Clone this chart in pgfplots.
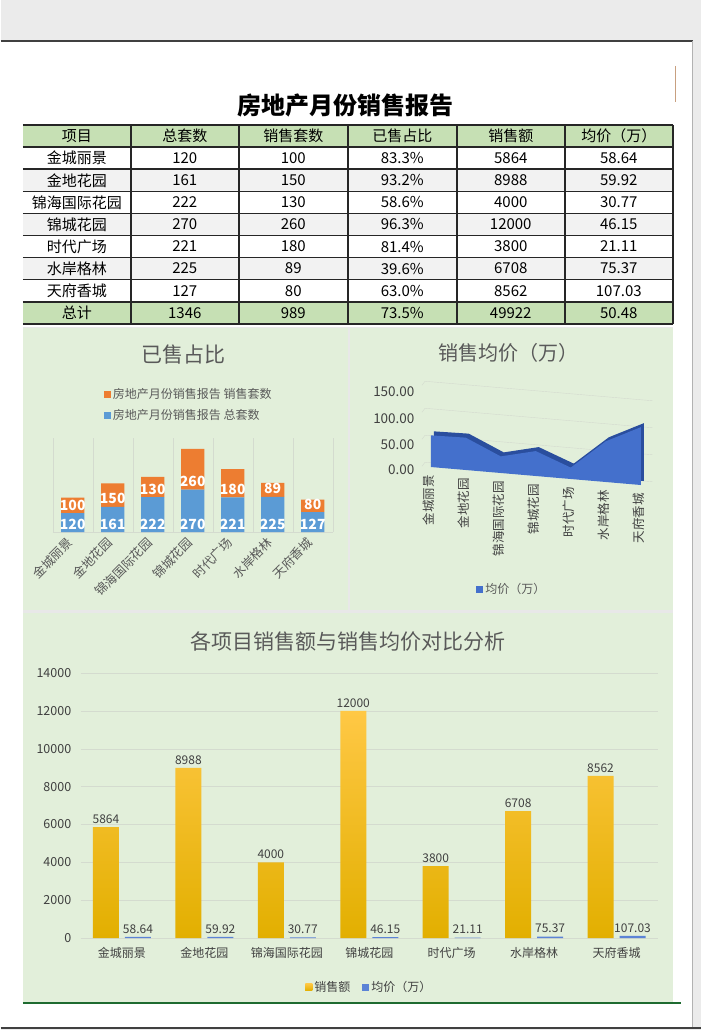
\documentclass[border=0pt]{standalone}
\usepackage{fontspec}
\setmainfont{Noto Sans CJK SC}
\usepackage{pgfplots}
\usepackage{pgfplotstable}
\pgfplotsset{compat=1.18}

\definecolor{pagegray}{HTML}{EBEBEB}
\definecolor{panelgreen}{HTML}{E2EFDA}
\definecolor{headgreen}{HTML}{C6E0B4}
\definecolor{rowgray}{HTML}{F2F2F2}
\definecolor{xlblue}{HTML}{5B9BD5}
\definecolor{xlorange}{HTML}{ED7D31}
\definecolor{areablue}{HTML}{4470CC}
\definecolor{areadark}{HTML}{2A4E9E}
\definecolor{txtgray}{HTML}{595959}
\definecolor{txtdark}{HTML}{404040}
\definecolor{gridgray}{HTML}{D4DBCF}
\definecolor{goldtop}{HTML}{FFC845}
\definecolor{goldmid}{HTML}{FFC000}
\definecolor{goldbot}{HTML}{E2AF00}
\definecolor{pricebar}{HTML}{5B83D6}
\definecolor{darkgreen}{HTML}{1E6B30}
\definecolor{edgebrown}{HTML}{C8A080}

\newcommand{\fs}[1]{\fontsize{#1}{#1}\selectfont}

% monthly sales per project
\pgfplotstableread{
x total sold amount price
0 120 100 5864  58.64
1 161 150 8988  59.92
2 222 130 4000  30.77
3 270 260 12000 46.15
4 221 180 3800  21.11
5 225 89  6708  75.37
6 127 80  8562  107.03
}\sales

% outline of the price area (with its floor points)
\pgfplotstableread{
x z
0 0
0 58.64
1 59.92
2 30.77
3 46.15
4 21.11
5 75.37
6 107.03
6 0
}\pricearea

\begin{document}
\begin{tikzpicture}
% page
\fill[pagegray] (0pt,0pt) rectangle (700pt,-1030pt);
\fill[white] (0pt,-41pt) rectangle (692pt,-1027pt);
\draw[line width=1.5pt, black!75] (0pt,-41pt) -- (692pt,-41pt);
\draw[line width=1.5pt, black!75] (0pt,-1028pt) -- (700pt,-1028pt);
\draw[line width=0.8pt, gray!60] (692pt,-41pt) -- (692pt,-1027pt);
\draw[line width=1pt, edgebrown] (675pt,-66pt) -- (675pt,-102pt);

% title
\node[font=\fs{24}\bfseries] at (345pt,-105pt) {房地产月份销售报告};

% table
\fill[headgreen] (22pt,-125pt) rectangle (672pt,-147.1pt);
\fill[headgreen] (22pt,-301.8pt) rectangle (672pt,-323.9pt);
\foreach \r in {2,4,6}
  \fill[rowgray] (22pt,{-125pt-\r*22.1pt}) rectangle (672pt,{-125pt-(\r+1)*22.1pt});
\foreach \r in {0,...,8}
  \draw[line width=1.5pt, black!85] (22pt,{-125pt-\r*22.1pt}) -- (672pt,{-125pt-\r*22.1pt});
\draw[line width=1.5pt, black!85] (22pt,-323.9pt) -- (672pt,-323.9pt);
\foreach \c in {130,238,347,456,564,672}
  \draw[line width=1.5pt, black!85] (\c pt,-125pt) -- (\c pt,-323.9pt);
\foreach \r/\a/\b/\c/\d/\e/\f in {
  0/项目/总套数/销售套数/已售占比/销售额/均价（万）,
  1/金城丽景/120/100/83.3\%/5864/58.64,
  2/金地花园/161/150/93.2\%/8988/59.92,
  3/锦海国际花园/222/130/58.6\%/4000/30.77,
  4/锦城花园/270/260/96.3\%/12000/46.15,
  5/时代广场/221/180/81.4\%/3800/21.11,
  6/水岸格林/225/89/39.6\%/6708/75.37,
  7/天府香城/127/80/63.0\%/8562/107.03,
  8/总计/1346/989/73.5\%/49922/50.48}{
  \node[font=\fs{15}] at (76pt,{-125pt-(\r+0.5)*22.1pt}) {\a};
  \node[font=\fs{15}] at (184pt,{-125pt-(\r+0.5)*22.1pt}) {\b};
  \node[font=\fs{15}] at (292.5pt,{-125pt-(\r+0.5)*22.1pt}) {\c};
  \node[font=\fs{15}] at (401.5pt,{-125pt-(\r+0.5)*22.1pt}) {\d};
  \node[font=\fs{15}] at (510pt,{-125pt-(\r+0.5)*22.1pt}) {\e};
  \node[font=\fs{15}] at (618pt,{-125pt-(\r+0.5)*22.1pt}) {\f};
}

% chart panels
\fill[gray!18] (22pt,-327pt) rectangle (672pt,-1002pt);
\fill[panelgreen] (22pt,-328pt) rectangle (347pt,-610pt);
\fill[panelgreen] (349pt,-328pt) rectangle (672pt,-610pt);
\fill[panelgreen] (22pt,-613pt) rectangle (672pt,-1002pt);
\draw[darkgreen, line width=2pt] (22pt,-1003pt) -- (680pt,-1003pt);

\node[font=\fs{21}, text=txtgray] at (183pt,-355pt) {已售占比};
\node[font=\fs{20}, text=txtgray] at (508pt,-353pt) {销售均价（万）};
\node[font=\fs{21}, text=txtgray] at (347pt,-642pt) {各项目销售额与销售均价对比分析};

% chart 1: stacked bars
\begin{axis}[
  at={(52pt,-532pt)}, anchor=south west,
  scale only axis, width=280pt, height=94pt,
  xmin=-0.5, xmax=6.5, ymin=0, ymax=600,
  ybar stacked, bar width=23pt,
  axis x line=bottom, axis y line=none,
  x axis line style={draw=gridgray, -},
  xtick={0,...,6},
  xticklabels={金城丽景,金地花园,锦海国际花园,锦城花园,时代广场,水岸格林,天府香城},
  major tick length=0pt, minor tick length=0pt,
  minor xtick={-0.5,0.5,...,6.5}, xminorgrids, minor grid style={gridgray},
  xticklabel style={rotate=45, anchor=east, font=\fs{12.5}, text=txtgray},
  xticklabel shift=6pt,
  ytick=\empty,
  /pgf/number format/assume math mode=true,
  point meta=explicit,
  nodes near coords,
  every node near coord/.append style={font=\fs{14}\bfseries, text=white,
    inner sep=0pt, text height=10pt, text depth=0pt,
    shift={(axis direction cs:0,-\halfy)}, yshift=8pt},
  reverse legend, legend cell align=left,
  legend style={at={(0.171,1.57)}, anchor=north west, draw=none, fill=none,
    font=\fs{12}, text=txtgray, row sep=5pt},
]
\addplot[fill=xlblue, draw=none, visualization depends on={0.5*\thisrow{total} \as \halfy},
  legend image code/.code={\fill[xlblue] (0pt,-3.5pt) rectangle (7pt,3.5pt);}]
  table[x=x, y=total, meta=total] {\sales};
\addplot[fill=xlorange, draw=none, visualization depends on={0.5*\thisrow{sold} \as \halfy},
  legend image code/.code={\fill[xlorange] (0pt,-3.5pt) rectangle (7pt,3.5pt);}]
  table[x=x, y=sold, meta=sold] {\sales};
\legend{房地产月份销售报告 总套数, 房地产月份销售报告 销售套数}
\end{axis}

% chart 2: 3D area
\begin{axis}[
  at={(430pt,-467pt)}, anchor=origin,
  x={(35pt,-3pt)}, y={(3pt,4pt)}, z={(0pt,0.54pt)},
  xmin=-0.25, xmax=6.25, ymin=0, ymax=1, zmin=0, zmax=150,
  ztick={0,50,100,150}, zmajorgrids, grid style={gridgray},
  ytick=\empty,
  axis line style={draw=none}, major tick length=0pt,
  xtick={0,...,6},
  xticklabels={金城丽景,金地花园,锦海国际花园,锦城花园,时代广场,水岸格林,天府香城},
  xticklabel style={rotate=90, anchor=east, font=\fs{12.5}, text=txtdark},
  xticklabel shift=5pt,
  zticklabel style={font=\fs{13.5}, text=txtdark, xshift=-4pt, yshift=4pt,
    /pgf/number format/.cd, fixed, fixed zerofill, precision=2},
  /pgf/number format/assume math mode=true,
  legend style={at={(0.39,-0.99)}, anchor=center, draw=none, fill=none,
    font=\fs{12}, text=txtgray},
]
\addplot3[fill=areadark, draw=none, forget plot]
  table[x=x, y expr=1, z=z] {\pricearea};
\addplot3[fill=areablue, draw=none,
  legend image code/.code={\fill[areablue] (0pt,-3.5pt) rectangle (7pt,3.5pt);}]
  table[x=x, y expr=0, z=z] {\pricearea};
\legend{均价（万）}
\end{axis}

% chart 3: amount and price bars
\begin{axis}[
  at={(80pt,-938pt)}, anchor=south west,
  scale only axis, width=577pt, height=265pt,
  xmin=-0.5, xmax=6.5, ymin=0, ymax=14000,
  ytick={0,2000,...,14000}, ymajorgrids, grid style={gridgray},
  scaled y ticks=false,
  ybar=6pt, bar width=26pt,
  axis x line*=bottom, axis y line*=left,
  x axis line style={draw=gridgray, -}, y axis line style={draw=none},
  major tick length=0pt,
  xtick={0,...,6},
  xticklabels={金城丽景,金地花园,锦海国际花园,锦城花园,时代广场,水岸格林,天府香城},
  xticklabel style={font=\fs{12}, text=txtdark},
  xticklabel shift=6pt,
  yticklabel style={font=\fs{12.5}, text=txtdark, xshift=-6pt, /pgf/number format/1000 sep={}},
  /pgf/number format/assume math mode=true,
  nodes near coords={\pgfmathprintnumber[fixed, precision=2, 1000 sep={}]{\pgfplotspointmeta}},
  every node near coord/.append style={font=\fs{12}, text=txtdark},
  legend columns=2,
  legend style={at={(0.5,-0.185)}, anchor=center, draw=none, fill=none,
    font=\fs{12}, text=txtdark, /tikz/every even column/.append style={column sep=10pt}},
]
\addplot[draw=none, top color=goldtop, middle color=goldmid, bottom color=goldbot,
  legend image code/.code={\fill[goldmid] (0pt,-3.5pt) rectangle (7pt,3.5pt);}]
  table[x=x, y=amount] {\sales};
\addplot[fill=pricebar, draw=none,
  legend image code/.code={\fill[pricebar] (0pt,-3.5pt) rectangle (7pt,3.5pt);}]
  table[x=x, y=price] {\sales};
\legend{销售额, 均价（万）}
\end{axis}
\end{tikzpicture}
\end{document}
